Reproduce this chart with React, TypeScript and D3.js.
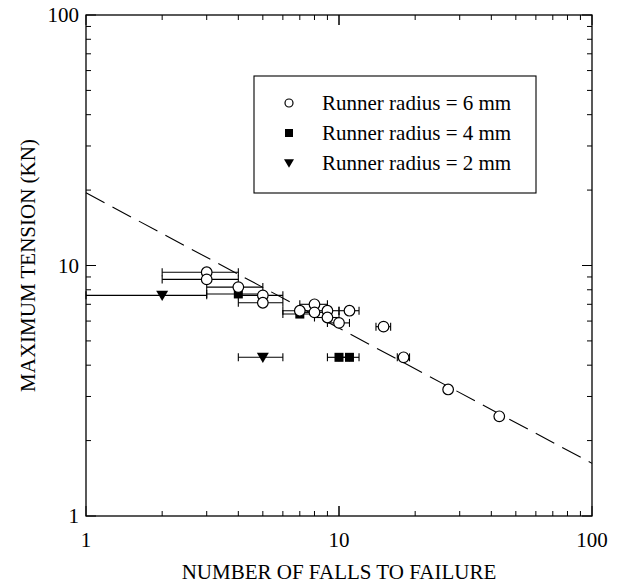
import * as d3 from 'd3'

// runner radius = 6 mm (open circles)
const r6X = [3, 3, 4, 5, 5, 7, 8, 8, 9, 9, 10, 11, 15, 18, 27, 43]
const r6Y = [9.4, 8.8, 8.2, 7.6, 7.1, 6.6, 7.0, 6.5, 6.6, 6.2, 5.9, 6.6, 5.7, 4.3, 3.2, 2.5]
const r6Lo = [2, 2, 3, 4, 4, 6, 7, 7, 8, 8, 9, 10, 14, 17, null, null]
const r6Hi = [4, 4, 5, 6, 6, 8, 9, 9, 10, 10, 11, 12, 16, 19, null, null]

// runner radius = 4 mm (filled squares)
const r4X = [4, 7, 10, 11]
const r4Y = [7.7, 6.4, 4.3, 4.3]
const r4Lo = [3, 6, 9, 10]
const r4Hi = [5, 8, 11, 12]

// runner radius = 2 mm (filled triangles)
const r2X = [2, 5]
const r2Y = [7.6, 4.3]
const r2Lo = [1, 4]
const r2Hi = [3, 6]

// dashed power-law fit  y = a * x^b
const fitA = 19.5
const fitB = -0.54

const xTicks = [1, 10, 100]
const yTicks = [1, 10, 100]
const legendLabels = ['Runner radius = 6 mm', 'Runner radius = 4 mm', 'Runner radius = 2 mm']

const W = 617
const H = 586
const left = 86, right = 592, top = 15, bottom = 516
const font = 'Liberation Serif'

export default function App() {
    const x = d3.scaleLog().domain([1, 100]).range([left, right])
    const y = d3.scaleLog().domain([1, 100]).range([bottom, top])

    const minor: number[] = []
    for (const dec of [1, 10]) for (let k = 1; k <= 10; k++) minor.push(dec * k)

    const fitX = [1, 100]
    const fitLine = d3.line<number>().x(d => x(d)).y(d => y(fitA * Math.pow(d, fitB)))

    const errBar = (xs: number[], ys: number[], lo: (number | null)[], hi: (number | null)[], key: string) =>
        xs.map((_, i) => {
            if (lo[i] == null || hi[i] == null) return null
            const yy = y(ys[i])
            const x0 = x(lo[i] as number), x1 = x(hi[i] as number)
            return (
                <g key={key + i} stroke="#000" strokeWidth={1.1}>
                    <line x1={x0} x2={x1} y1={yy} y2={yy} />
                    <line x1={x0} x2={x0} y1={yy - 4} y2={yy + 4} />
                    <line x1={x1} x2={x1} y1={yy - 4} y2={yy + 4} />
                </g>
            )
        })

    const tri = (cx: number, cy: number, s: number) =>
        `M${cx - s},${cy - s * 0.75}L${cx + s},${cy - s * 0.75}L${cx},${cy + s * 0.95}Z`

    return (
        <svg width={W} height={H} style={{ position: 'absolute', left: 0, top: 0, background: '#fff' }}>
            <rect x={0} y={0} width={W} height={H} fill="#fff" />

            {/* ticks on all four sides */}
            <g stroke="#000" strokeWidth={1}>
                {minor.map(v => {
                    const len = v === 1 || v === 10 || v === 100 ? 10 : 5
                    return (
                        <g key={'t' + v}>
                            <line x1={x(v)} x2={x(v)} y1={bottom} y2={bottom - len} />
                            <line x1={x(v)} x2={x(v)} y1={top} y2={top + len} />
                            <line x1={left} x2={left + len} y1={y(v)} y2={y(v)} />
                            <line x1={right} x2={right - len} y1={y(v)} y2={y(v)} />
                        </g>
                    )
                })}
            </g>
            <rect x={left} y={top} width={right - left} height={bottom - top} fill="none" stroke="#000" strokeWidth={1.3} />

            {/* tick labels */}
            <g style={{ fontFamily: font, fontSize: 21 }} fill="#000">
                {xTicks.map(v => (
                    <text key={'xl' + v} x={x(v)} y={547} textAnchor="middle">{v}</text>
                ))}
                {yTicks.map(v => (
                    <text key={'yl' + v} x={79} y={y(v) + 7} textAnchor="end">{v}</text>
                ))}
            </g>

            {/* axis titles */}
            <g style={{ fontFamily: font, fontSize: 21 }} fill="#000">
                <text x={(left + right) / 2} y={579} textAnchor="middle">
                    NUMBER OF FALLS TO FAILURE
                </text>
                <text transform={`translate(35,${(top + bottom) / 2}) rotate(-90)`} textAnchor="middle">
                    MAXIMUM TENSION (KN)
                </text>
            </g>

            {/* fit line */}
            <path d={fitLine(fitX) || ''} fill="none" stroke="#000" strokeWidth={1.1} strokeDasharray="21,9" />

            {/* error bars */}
            {errBar(r6X, r6Y, r6Lo, r6Hi, 'e6')}
            {errBar(r4X, r4Y, r4Lo, r4Hi, 'e4')}
            {errBar(r2X, r2Y, r2Lo, r2Hi, 'e2')}

            {/* markers */}
            {r2X.map((v, i) => (
                <path key={'m2' + i} d={tri(x(v), y(r2Y[i]), 6)} fill="#000" />
            ))}
            {r4X.map((v, i) => (
                <rect key={'m4' + i} x={x(v) - 4.5} y={y(r4Y[i]) - 4.5} width={9} height={9} fill="#000" />
            ))}
            {r6X.map((v, i) => (
                <circle key={'m6' + i} cx={x(v)} cy={y(r6Y[i])} r={5.3} fill="#fff" stroke="#000" strokeWidth={1.2} />
            ))}

            {/* legend */}
            <rect x={254} y={76} width={282} height={117} fill="#fff" stroke="#000" strokeWidth={1.1} />
            <circle cx={289} cy={103} r={4} fill="#fff" stroke="#000" strokeWidth={1.2} />
            <rect x={285} y={129} width={8} height={8} fill="#000" />
            <path d={tri(289, 163, 5)} fill="#000" />
            <g style={{ fontFamily: font, fontSize: 21 }} fill="#000">
                {legendLabels.map((t, i) => (
                    <text key={'lg' + i} x={322} y={[103, 133, 163][i] + 7}>{t}</text>
                ))}
            </g>
        </svg>
    )
}
